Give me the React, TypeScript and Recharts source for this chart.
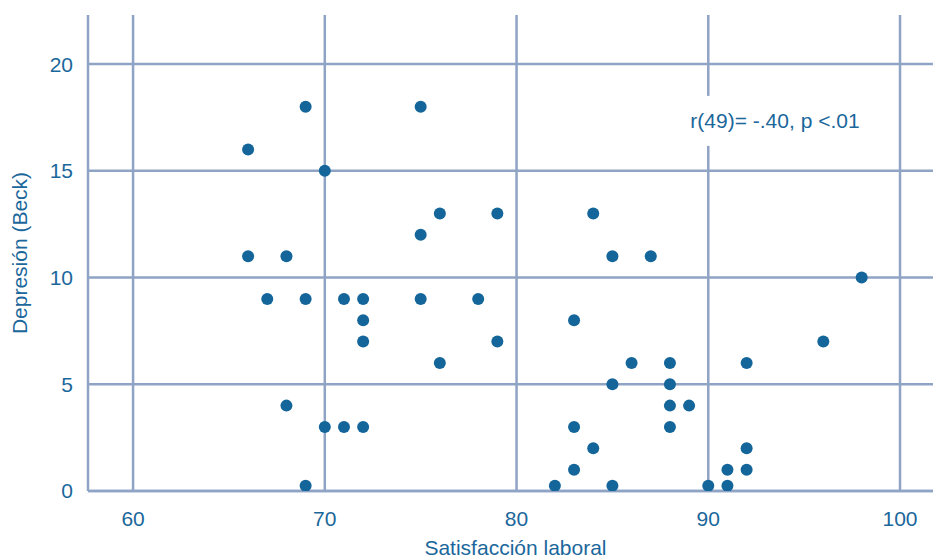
import React from 'react';
import {
  ScatterChart,
  Scatter,
  XAxis,
  YAxis,
  CartesianGrid,
  ReferenceDot,
} from 'recharts';

const satisfaccion = [66, 69, 75, 70, 66, 68, 67, 69, 71, 72, 72, 72, 75, 76, 79, 75, 78, 79, 76, 84, 85, 87, 83, 86, 88, 92, 96, 98, 85, 88, 88, 89, 88, 83, 84, 83, 82, 85, 90, 91, 91, 92, 92, 68, 70, 71, 72, 69];
const depresion = [16, 18, 18, 15, 11, 11, 9, 9, 9, 9, 8, 7, 12, 13, 13, 9, 9, 7, 6, 13, 11, 11, 8, 6, 6, 6, 7, 10, 5, 5, 4, 4, 3, 3, 2, 1, 0.25, 0.25, 0.25, 0.25, 1, 1, 2, 4, 3, 3, 3, 0.25];

const xTicks = [60, 70, 80, 90, 100];
const yTicks = [0, 5, 10, 15, 20];
const xLabel = 'Satisfacción laboral';
const yLabel = 'Depresión (Beck)';
const annotationText = 'r(49)= -.40, p <.01';
const annotationPos = { x: 93.48, y: 17.34 };

const data = satisfaccion.map((x, i) => ({ x, y: depresion[i] }));

const TEXT = '#1b679b';
const POINT = '#13659a';
const GRID = '#8fa3c5';
const FONT = '"Liberation Sans", Arial, sans-serif';
const FS = 21;

const Dot = (p: any) => <circle cx={p.cx} cy={p.cy} r={6} fill={POINT} />;

const Annotation = (p: any) => (
  <g>
    <rect x={p.cx - 95} y={p.cy - 25} width={190} height={50} fill="#ffffff" />
    <text
      x={p.cx}
      y={p.cy}
      textAnchor="middle"
      dominantBaseline="central"
      fill={TEXT}
      fontSize={FS}
      fontFamily={FONT}
    >
      {annotationText}
    </text>
  </g>
);

export default function App() {
  return (
    <div style={{ position: 'absolute', left: 0, top: 0, background: '#fff' }}>
      <ScatterChart
        width={933}
        height={558}
        margin={{ top: 15, right: 0, left: 0, bottom: 0 }}
        style={{ fontFamily: FONT }}
      >
        <CartesianGrid
          stroke={GRID}
          strokeWidth={2.5}
          verticalValues={xTicks}
          horizontalValues={yTicks}
        />
        <XAxis
          type="number"
          dataKey="x"
          domain={[57.65, 101.72]}
          ticks={xTicks}
          allowDataOverflow
          height={67}
          axisLine={{ stroke: GRID, strokeWidth: 2.5 }}
          tickLine={false}
          tickSize={6}
          tickMargin={14}
          tick={{ fill: TEXT, fontSize: FS, fontFamily: FONT }}
          label={{
            value: xLabel,
            position: 'insideBottom',
            offset: 3,
            dx: 5,
            fill: TEXT,
            fontSize: FS,
            fontFamily: FONT,
          }}
        />
        <YAxis
          type="number"
          dataKey="y"
          domain={[0, 22.3]}
          ticks={yTicks}
          allowDataOverflow
          width={88}
          axisLine={{ stroke: GRID, strokeWidth: 2.5 }}
          tickLine={false}
          tickSize={6}
          tickMargin={9}
          tick={{ fill: TEXT, fontSize: FS, fontFamily: FONT }}
          label={{
            value: yLabel,
            angle: -90,
            position: 'insideLeft',
            offset: 20,
            style: { textAnchor: 'middle' },
            fill: TEXT,
            fontSize: FS,
            fontFamily: FONT,
          }}
        />
        <Scatter data={data} shape={Dot} isAnimationActive={false} />
        <ReferenceDot
          x={annotationPos.x}
          y={annotationPos.y}
          r={0}
          shape={Annotation}
        />
      </ScatterChart>
    </div>
  );
}
